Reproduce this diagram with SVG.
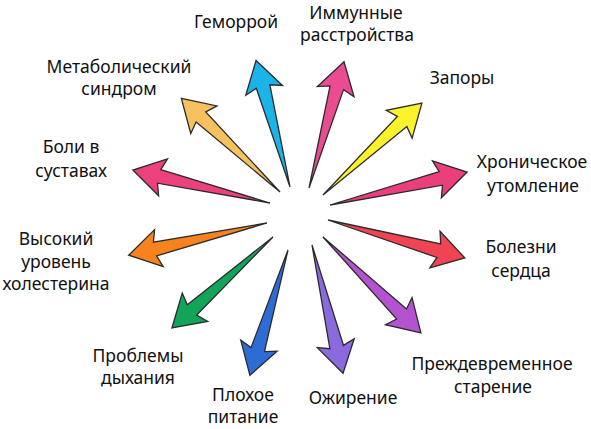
<svg xmlns="http://www.w3.org/2000/svg" width="591" height="429" viewBox="0 0 591 429">
<style>
.a{stroke:#2b2b2b;stroke-width:1.3;stroke-linejoin:miter}
text{font-family:"Noto Sans","Open Sans","Liberation Sans",sans-serif;font-size:17.5px;fill:#111;text-anchor:middle}
</style>
<rect width="591" height="429" fill="#fff"/>
<g id="connectors">
<path id="arrow-gemorroy" class="a" fill="#1bb4e8" transform="translate(290,187) rotate(-105)" d="M0,0 L104,-7 L100,-19 L131,0 L100,19 L104,7 Z"/>
<path id="arrow-metabolic" class="a" fill="#f8c160" transform="translate(280,192) rotate(-136.5)" d="M0,0 L109,-7 L105,-19 L136,0 L105,19 L109,7 Z"/>
<path id="arrow-immune" class="a" fill="#ea4b91" transform="translate(309,188) rotate(-74.5)" d="M0,0 L104,-7 L100,-19 L131,0 L100,19 L104,7 Z"/>
<path id="arrow-zapory" class="a" fill="#fbf22c" transform="translate(323,195) rotate(-42.9)" d="M0,0 L108,-7 L104,-19 L135,0 L104,19 L108,7 Z"/>
<path id="arrow-chronic" class="a" fill="#eb3f7d" transform="translate(330,205) rotate(-13.5)" d="M0,0 L114,-7 L110,-19 L141,0 L110,19 L114,7 Z"/>
<path id="arrow-heart" class="a" fill="#f04452" transform="translate(328,220) rotate(15.5)" d="M0,0 L115,-7 L111,-19 L142,0 L111,19 L115,7 Z"/>
<path id="arrow-aging" class="a" fill="#b552d1" transform="translate(323,237) rotate(44.4)" d="M0,0 L110,-7 L106,-19 L137,0 L106,19 L110,7 Z"/>
<path id="arrow-obesity" class="a" fill="#8b69de" transform="translate(312,245) rotate(76.4)" d="M0,0 L105,-7 L101,-19 L132,0 L101,19 L105,7 Z"/>
<path id="arrow-nutrition" class="a" fill="#2e6cd5" transform="translate(288,250) rotate(106.9)" d="M0,0 L104,-7 L100,-19 L131,0 L100,19 L104,7 Z"/>
<path id="arrow-breathing" class="a" fill="#12a459" transform="translate(273,237) rotate(138)" d="M0,0 L109,-7 L105,-19 L136,0 L105,19 L109,7 Z"/>
<path id="arrow-cholesterol" class="a" fill="#f7831f" transform="translate(267,223) rotate(166.9)" d="M0,0 L115,-7 L111,-19 L142,0 L111,19 L115,7 Z"/>
<path id="arrow-joints" class="a" fill="#ec417c" transform="translate(270,203) rotate(-166.5)" d="M0,0 L114,-7 L110,-19 L141,0 L110,19 L114,7 Z"/>
</g>
<g id="n-gemorroy"><text x="236" y="28">Геморрой</text></g>
<g id="n-metabolic"><text x="119" y="73">Метаболический</text><text x="119" y="95">синдром</text></g>
<g id="n-immune"><text x="356" y="18.5">Иммунные</text><text x="357" y="40.5">расстройства</text></g>
<g id="n-zapory"><text x="462" y="84">Запоры</text></g>
<g id="n-chronic"><text x="532" y="168">Хроническое</text><text x="533" y="192">утомление</text></g>
<g id="n-heart"><text x="521" y="253">Болезни</text><text x="521" y="277">сердца</text></g>
<g id="n-aging"><text x="492" y="370">Преждевременное</text><text x="493" y="393">старение</text></g>
<g id="n-obesity"><text x="353" y="404">Ожирение</text></g>
<g id="n-nutrition"><text x="243" y="401">Плохое</text><text x="243" y="423">питание</text></g>
<g id="n-breathing"><text x="138" y="362">Проблемы</text><text x="138" y="384">дыхания</text></g>
<g id="n-joints"><text x="71" y="153">Боли в</text><text x="71" y="177">суставах</text></g>
<g id="n-cholesterol"><text x="56" y="245">Высокий</text><text x="56" y="268">уровень</text><text x="56" y="290">холестерина</text></g>
</svg>
